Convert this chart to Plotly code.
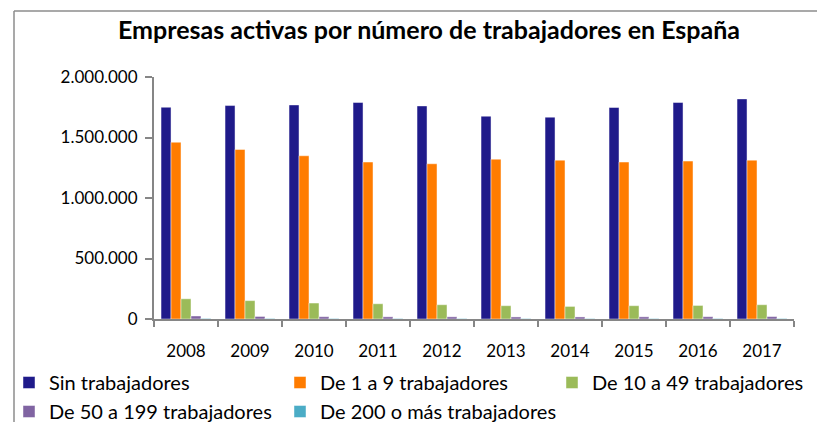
import plotly.graph_objects as go

years = ["2008", "2009", "2010", "2011", "2012", "2013", "2014", "2015", "2016", "2017"]
sin_trab = [1750000, 1764000, 1769000, 1789000, 1761000, 1676000, 1668000, 1748000, 1789000, 1819000]
de_1_9 = [1461000, 1401000, 1349000, 1297000, 1283000, 1321000, 1313000, 1297000, 1305000, 1313000]
de_10_49 = [167000, 152000, 132000, 126000, 118000, 110000, 104000, 110000, 112000, 118000]
de_50_199 = [25000, 21000, 19000, 18000, 18000, 17000, 17000, 18000, 19000, 20000]
de_200_mas = [4800, 4600, 4400, 4200, 4100, 3900, 3900, 4100, 4300, 4500]

series_names = ["Sin trabajadores", "De 1 a 9 trabajadores", "De 10 a 49 trabajadores",
                "De 50 a 199 trabajadores", "De 200 o más trabajadores"]
series_values = [sin_trab, de_1_9, de_10_49, de_50_199, de_200_mas]
colors = ["#1F1A8A", "#FF7C00", "#9BBB59", "#8064A2", "#4BACC6"]
# legend column for each series (reference legend: 3 columns, 2 rows)
legend_ids = ["legend", "legend2", "legend3", "legend", "legend2"]

FONT = "Lato, Carlito, Calibri, sans-serif"

fig = go.Figure()
for name, vals, col, lg in zip(series_names, series_values, colors, legend_ids):
    fig.add_trace(go.Bar(
        x=years, y=vals, name=name, legend=lg, legendgroup=name,
        marker=dict(color=col, line=dict(color="rgba(255,255,255,0.45)", width=1)),
    ))

# page body has an 8px margin: work in window pixels and convert
OFF = 8
W, H = 825 - OFF, 422 - OFF
PL, PR, PT, PB = 154, 794, 77, 319   # plot area in window pixels
L, R, T, B = PL - OFF, W - (PR - OFF), PT - OFF, H - (PB - OFF)
pw = W - L - R
ph = H - T - B

def px_x(p):
    return (p - OFF - L) / pw

def px_y(p):
    return (H - B - (p - OFF)) / ph

LEG_TOP = 363
leg_common = dict(orientation="v", xanchor="left", yanchor="top", y=px_y(LEG_TOP),
                  font=dict(family=FONT, size=20, color="#000000"),
                  bgcolor="rgba(0,0,0,0)", tracegroupgap=0, traceorder="normal")

fig.update_layout(
    width=W, height=H,
    margin=dict(l=L, r=R, t=T, b=B, autoexpand=False),
    paper_bgcolor="white", plot_bgcolor="white",
    separators=",.",
    barmode="group", bargap=0.22, bargroupgap=0,
    font=dict(family=FONT, size=17, color="#000000"),
    title=dict(text="<b>Empresas activas por número de trabajadores en España</b>",
               x=(429 - OFF) / W, xanchor="center", y=1 - (30 - OFF) / H, yanchor="middle",
               font=dict(family=FONT, size=25, color="#000000")),
    xaxis=dict(type="category", showline=True, linecolor="#868686", linewidth=2,
               ticks="outside", tickson="boundaries", ticklen=6, tickcolor="#868686", tickwidth=2,
               showgrid=False, tickfont=dict(size=17), ticklabelstandoff=16),
    yaxis=dict(range=[0, 2000000], tickvals=[0, 500000, 1000000, 1500000, 2000000],
               tickformat=",d", showline=True, linecolor="#868686", linewidth=2,
               ticks="outside", ticklen=7, tickcolor="#868686", tickwidth=2,
               showgrid=False, zeroline=False, tickfont=dict(size=17), ticklabelstandoff=4),
    legend=dict(x=px_x(9), **leg_common),
    legend2=dict(x=px_x(280), **leg_common),
    legend3=dict(x=px_x(552), **leg_common),
    showlegend=True,
)

fig.add_shape(type="line", xref="paper", yref="paper",
              x0=px_x(14), x1=px_x(14), y0=px_y(11), y1=px_y(440),
              line=dict(color="#8C8C8C", width=1.5))
fig.add_shape(type="line", xref="paper", yref="paper",
              x0=px_x(14), x1=px_x(840), y0=px_y(11), y1=px_y(11),
              line=dict(color="#8C8C8C", width=1.5))

fig.write_html("out.html")
